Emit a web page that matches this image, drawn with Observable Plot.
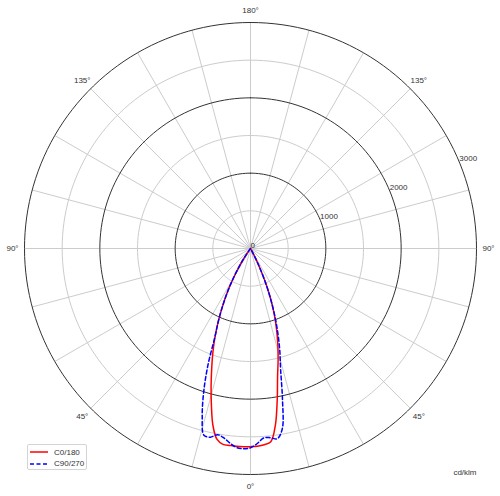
<!DOCTYPE html>
<html><head><meta charset="utf-8">
<script src="https://cdn.jsdelivr.net/npm/d3@7"></script>
<script src="https://cdn.jsdelivr.net/npm/@observablehq/plot@0.6"></script>
<style>
body{margin:0;background:#fff;font-family:"Liberation Sans",Arial,sans-serif;}
#wrap{position:relative;width:500px;height:496px;}
#legend{position:absolute;left:27px;top:444px;width:60px;height:26px;box-sizing:border-box;border:1px solid #d4d4d4;border-radius:2px;background:#fff;font-size:8px;color:#333;}
#legend .row{position:absolute;left:2px;height:10px;display:flex;align-items:center;}
#legend svg{display:block}
#legend span{margin-left:6px;}
</style></head>
<body><div id="wrap"><div id="legend"></div></div>
<script>
// gamma angles (degrees) and intensities (cd/klm)
const gamma = [0,2,4,6,8,10,12,14,16,18,20,22,24,26,28,30,32,34,36,38,40];
const c0   = [2630,2626,2612,2580,2370,2042,1729,1516,1313,1113,914,695,463,250,80,10,0,0,0,0,0];
const c180 = [2630,2632,2632,2628,2625,2570,2400,2145,1898,1665,1457,1249,1041,836,646,456,290,140,30,0,0];
const c90  = [2646,2590,2520,2525,2550,2430,2040,1651,1410,1170,930,695,463,250,80,10,0,0,0,0,0];
const c270 = [2646,2660,2648,2598,2540,2510,2560,2555,2325,2015,1658,1255,1041,836,646,456,290,140,30,0,0];
const rings = [500,1000,1500,2000,2500,3000];
const tickValues = [0,1000,2000,3000];
const angleTicks = [0,45,90,135,180];
const spokeAngles = d3.range(0,360,15);
const series = [
  {name:"C0/180", right:c0, left:c180, color:"#ff0000", dash:null},
  {name:"C90/270", right:c90, left:c270, color:"#0000ff", dash:"4,2.5"}
];
const rad = d => d*Math.PI/180;
const maxR = 3000, labelR = 3159;

function pathOf(s){
  const pts = [];
  for (let i = gamma.length-1; i >= 0; i--) pts.push({x:-s.left[i]*Math.sin(rad(gamma[i])), y:-s.left[i]*Math.cos(rad(gamma[i]))});
  for (let i = 1; i < gamma.length; i++) pts.push({x:s.right[i]*Math.sin(rad(gamma[i])), y:-s.right[i]*Math.cos(rad(gamma[i]))});
  return pts;
}
const ringPts = rings.flatMap(r => d3.range(0,361,2).map(a => ({ring:r, x:r*Math.sin(rad(a)), y:r*Math.cos(rad(a))})));
const spokes = spokeAngles.map(a => ({x2:maxR*Math.sin(rad(a)), y2:maxR*Math.cos(rad(a))}));
const angleLabels = angleTicks.flatMap(a => {
  const out = [{t:a+"°", x:labelR*Math.sin(rad(a)), y:-labelR*Math.cos(rad(a))}];
  if (a !== 0 && a !== 180) out.push({t:a+"°", x:-labelR*Math.sin(rad(a)), y:-labelR*Math.cos(rad(a))});
  return out;
});
const tickLabels = tickValues.map(v => ({t:String(v), x:v*Math.cos(rad(22.5)), y:v*Math.sin(rad(22.5))}));

const marks = [
  Plot.link(spokes, {x1:0, y1:0, x2:"x2", y2:"y2", stroke:"#cccccc", strokeWidth:1}),
  Plot.line(ringPts.filter(d => d.ring % 1000 !== 0), {x:"x", y:"y", z:"ring", stroke:"#cccccc", strokeWidth:1}),
  Plot.line(ringPts.filter(d => d.ring % 1000 === 0), {x:"x", y:"y", z:"ring", stroke:"#333333", strokeWidth:1}),
];
for (const s of series) {
  marks.push(Plot.line(pathOf(s), {x:"x", y:"y", stroke:s.color, strokeWidth:1.5, curve:"catmull-rom", strokeDasharray:s.dash}));
}
marks.push(
  Plot.text(tickLabels, {x:"x", y:"y", text:"t", textAnchor:"start", lineAnchor:"bottom", dy:-1, fontSize:8, fill:"#333"}),
  Plot.text(angleLabels, {x:"x", y:"y", text:"t", textAnchor:"middle", lineAnchor:"middle", fontSize:8, fill:"#333"}),
  Plot.text(["cd/klm"], {frameAnchor:"bottom-right", textAnchor:"end", lineAnchor:"bottom", fontSize:8, fill:"#333"})
);

const chart = Plot.plot({
  width:500, height:496,
  marginLeft:24, marginRight:24, marginTop:22, marginBottom:22,
  x:{domain:[-maxR,maxR], axis:null},
  y:{domain:[-maxR,maxR], axis:null},
  style:{fontFamily:'"Liberation Sans",Arial,sans-serif', background:"#fff"},
  marks
});
document.getElementById("wrap").prepend(chart);

const legend = document.getElementById("legend");
series.forEach((s,i) => {
  const row = document.createElement("div");
  row.className = "row";
  row.style.top = (2 + i*11.5) + "px";
  row.innerHTML = `<svg width="18" height="4"><line x1="0" x2="18" y1="2" y2="2" stroke="${s.color}" stroke-width="1.5" ${s.dash ? `stroke-dasharray="${s.dash}"` : ""}/></svg><span>${s.name}</span>`;
  legend.appendChild(row);
});
</script></body></html>
